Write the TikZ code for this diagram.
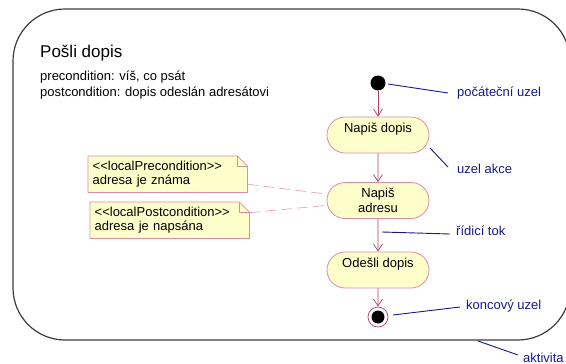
\documentclass[tikz,border=0pt]{standalone}
\usepackage{fontspec}
\setmainfont{Liberation Sans}
\usetikzlibrary{arrows.meta,shapes.misc}

\definecolor{frameclr}{RGB}{60,60,60}
\definecolor{flowclr}{RGB}{176,64,104}
\definecolor{actborder}{RGB}{222,140,164}
\definecolor{actfill}{RGB}{255,255,204}
\definecolor{labelclr}{RGB}{24,24,140}
\definecolor{anchorclr}{RGB}{234,164,188}

% guillemet-free stereotype brackets
\newcommand{\stereo}[1]{<\kern0pt<#1>\kern0pt>}

\begin{document}
\begin{tikzpicture}[x=1pt,y=-1pt,
  every node/.style={font=\fontsize{13}{14.5}\selectfont, inner sep=0pt},
  frame/.style={draw=frameclr, line width=1.2pt, rounded corners=52pt},
  action/.style={rounded rectangle, draw=actborder, fill=actfill, line width=0.8pt,
    minimum width=102pt, minimum height=36pt, align=center},
  flow/.style={draw=flowclr, line width=0.7pt, -{Straight Barb[length=7pt,width=9pt]}},
  pointer/.style={draw=labelclr, line width=0.9pt},
  lbl/.style={text=labelclr, anchor=base west},
  notebox/.style={anchor=north west, text width=150pt, inner xsep=4.5pt,
    minimum height=36pt, align=left},
  notepath/.style={draw=actborder, fill=actfill, line width=0.8pt},
  anchorline/.style={draw=anchorclr, line width=0.7pt, dash pattern=on 11pt off 5pt},
]
\useasboundingbox (0,0) rectangle (566,364);
\clip (0,0) rectangle (566,364);

% activity frame
\draw[frame] (13,9) rectangle (570,340);
\node[anchor=base west, font=\fontsize{17}{20}\selectfont] (title) at (40,57) {Pošli dopis};
\node[anchor=base west] (pre) at (40,80) {precondition: víš, co psát};
\node[anchor=base west] (post) at (40,96) {postcondition: dopis odeslán adresátovi};

% nodes of the flow
\node[circle, fill=black, minimum size=15pt] (init) at (378,83) {};
\node[action] (a1) at (378,135) {Napiš dopis\\\mbox{}};
\node[action] (a2) at (378,200.5) {Napiš\\adresu};
\node[action] (a3) at (378,270) {Odešli dopis\\\mbox{}};
\node[circle, draw=flowclr, fill=white, line width=0.7pt, minimum size=20pt] (fin) at (378,317) {};
\node[circle, fill=black, minimum size=13pt] (fincore) at (fin) {};

% control flow
\draw[flow] (init) -- (a1);
\draw[flow] (a1) -- (a2);
\draw[flow] (a2) -- (a3);
\draw[flow] (a3) -- (fin);

% local conditions: the boxes fix the geometry, the outline is drawn with a folded corner
\node[notebox] (n1) at (88,156) {\stereo{localPrecondition}\\adresa je známa};
\node[notebox] (n2) at (90,202) {\stereo{localPostcondition}\\adresa je napsána};
\draw[anchorline] (n1) -- (a2);
\draw[anchorline] (n2) -- (a2);
\foreach \n in {n1,n2}{
  \draw[notepath] (\n.north west) -- ([xshift=-10pt]\n.north east) -- ([yshift=-10pt]\n.north east)
    -- (\n.south east) -- (\n.south west) -- cycle;
  \draw[draw=actborder, line width=0.8pt] ([xshift=-10pt]\n.north east) -- ([xshift=-10pt,yshift=-10pt]\n.north east)
    -- ([yshift=-10pt]\n.north east);
}
\node[notebox] (t1) at (88,156) {\stereo{localPrecondition}\\adresa je známa};
\node[notebox] (t2) at (90,202) {\stereo{localPostcondition}\\adresa je napsána};

% explanatory labels
\node[lbl] (l1) at (457,96) {počáteční uzel};
\node[lbl] (l2) at (457,173) {uzel akce};
\node[lbl] (l3) at (456,235) {řídicí tok};
\node[lbl] (l4) at (466,309) {koncový uzel};
\node[lbl] (l5) at (523,362) {aktivita};

\coordinate (p1a) at (388,84);   \coordinate (p1b) at (448,93);
\coordinate (p2a) at (430,148);  \coordinate (p2b) at (448,167);
\coordinate (p3a) at (382,232);  \coordinate (p3b) at (450,234);
\coordinate (p4a) at (393,315);  \coordinate (p4b) at (460,307);
\coordinate (p5a) at (478,341);  \coordinate (p5b) at (518,355);
\draw[pointer] (p1a) -- (p1b);
\draw[pointer] (p2a) -- (p2b);
\draw[pointer] (p3a) -- (p3b);
\draw[pointer] (p4a) -- (p4b);
\draw[pointer] (p5a) -- (p5b);
\end{tikzpicture}
\end{document}
